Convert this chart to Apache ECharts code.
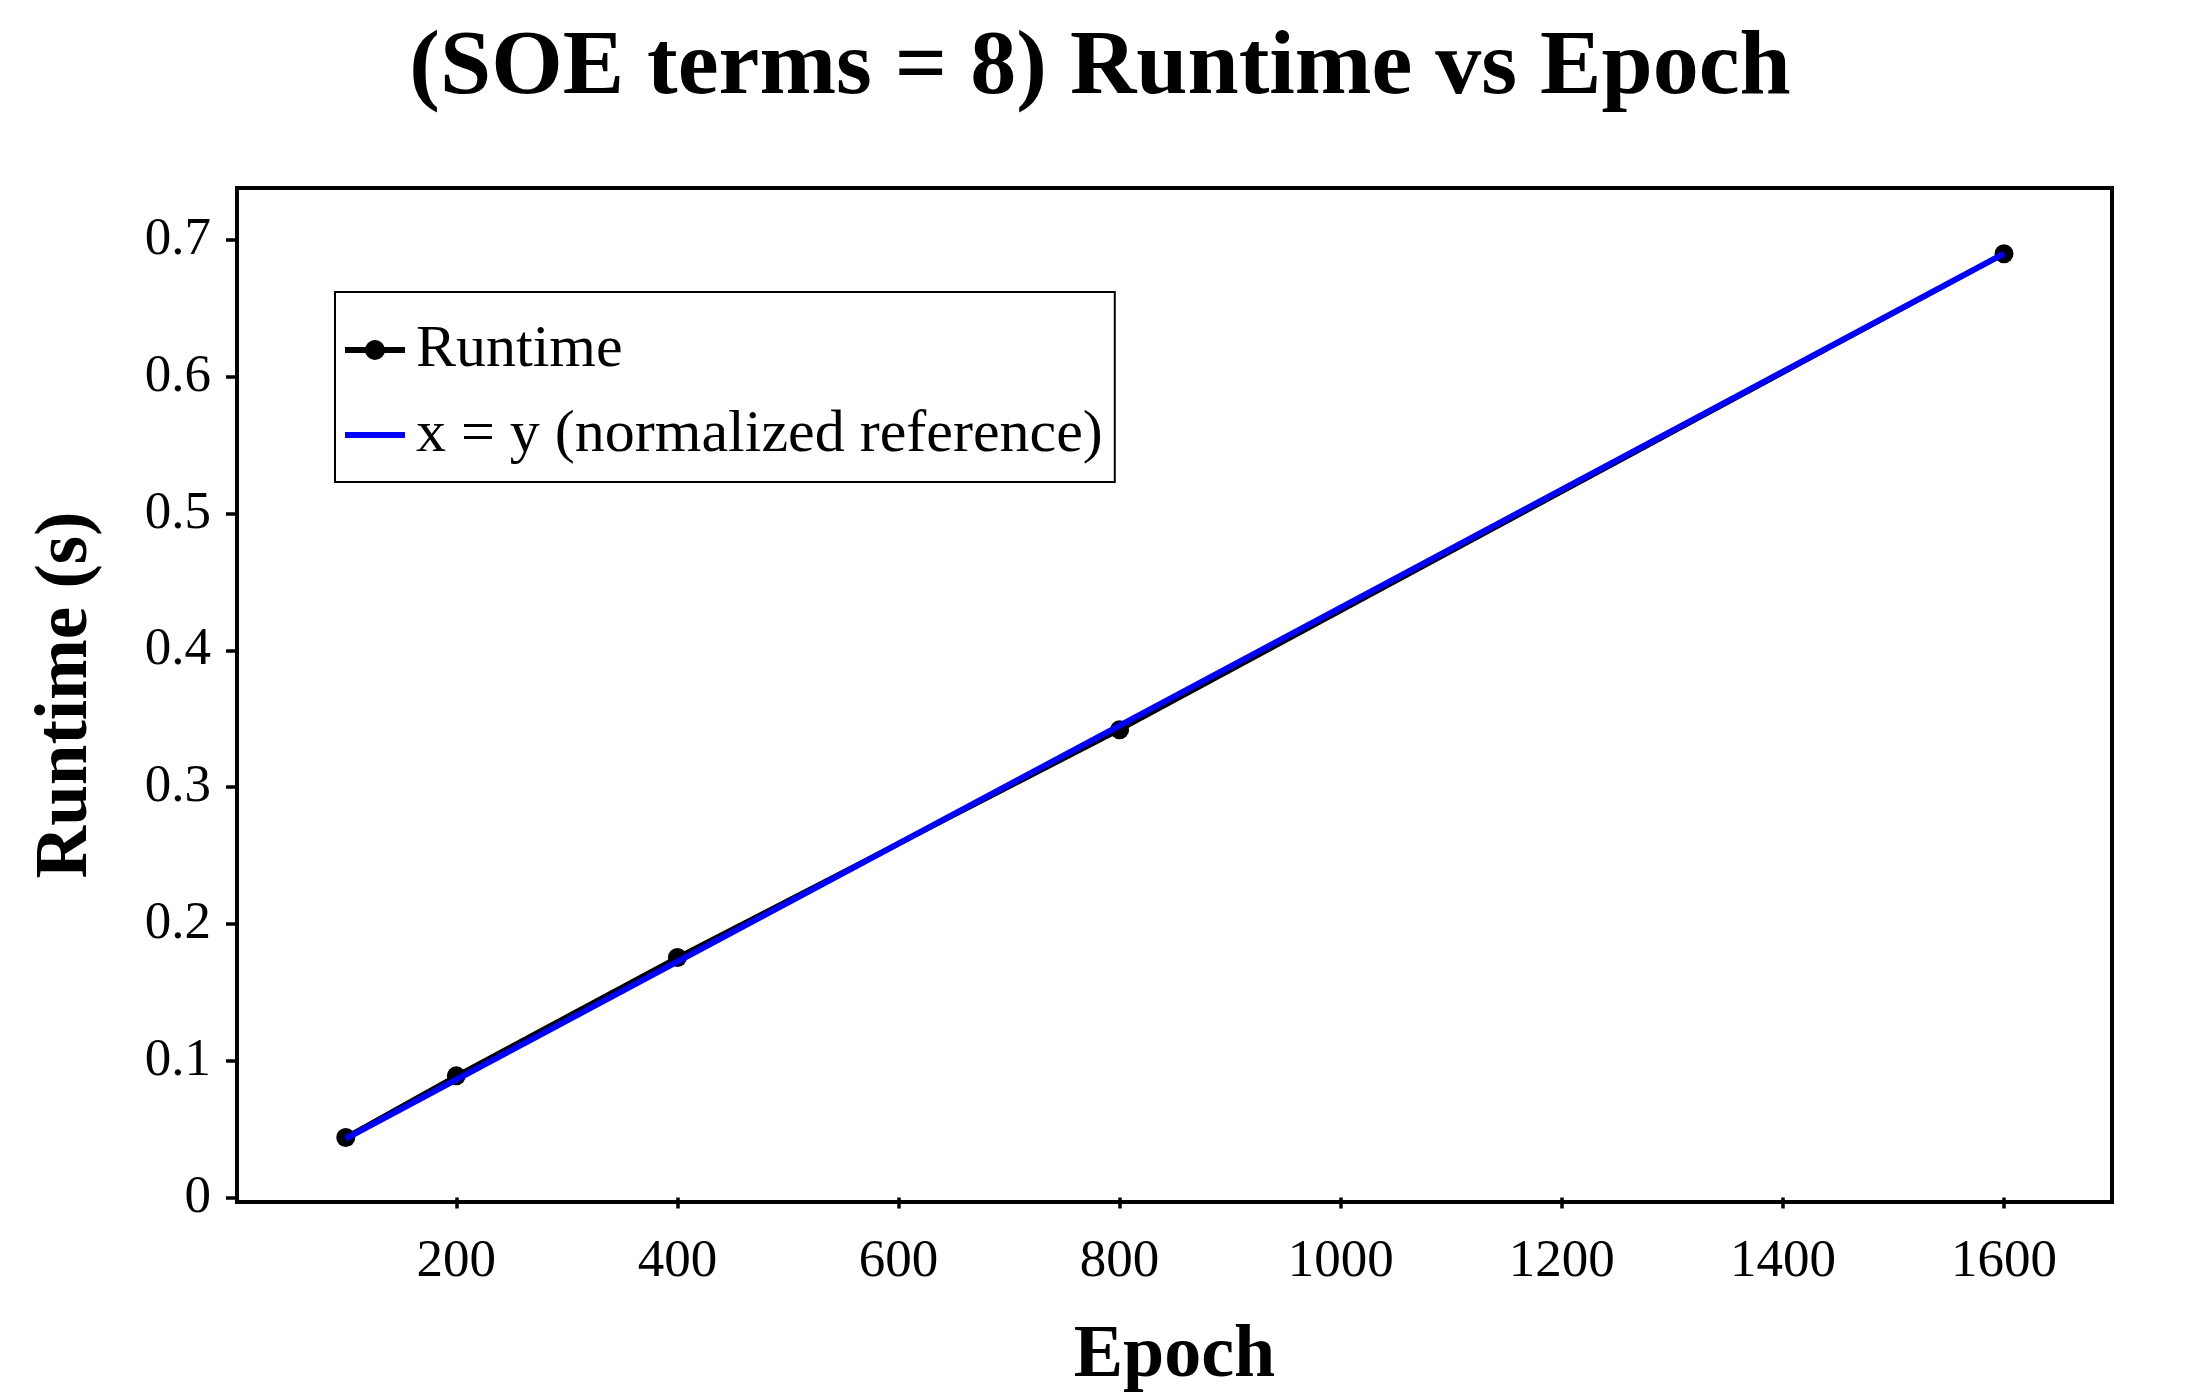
<!DOCTYPE html>
<html>
<head>
<meta charset="utf-8">
<script src="https://cdn.jsdelivr.net/npm/echarts@6/dist/echarts.min.js"></script>
<style>
html,body{margin:0;padding:0;background:#fff;}
#chart{width:2200px;height:1400px;}
</style>
</head>
<body>
<div id="chart"></div>
<script>
const epochs = [100, 200, 400, 800, 1600];
const runtime = [0.044, 0.089, 0.1755, 0.342, 0.690];
const reference = [0.0431, 0.0863, 0.1725, 0.345, 0.690];
const xTicks = [200, 400, 600, 800, 1000, 1200, 1400, 1600];
const yTicks = [0, 0.1, 0.2, 0.3, 0.4, 0.5, 0.6, 0.7];
const titleText = '(SOE terms = 8) Runtime vs Epoch';
const seriesNames = ['Runtime', 'x = y (normalized reference)'];

const FONT = '"Liberation Serif", "Times New Roman", serif';
const chart = echarts.init(document.getElementById('chart'), null, {renderer: 'canvas'});

chart.setOption({
  backgroundColor: '#ffffff',
  animation: false,
  title: {
    text: titleText,
    left: 'center',
    top: 18,
    textStyle: {fontFamily: FONT, fontSize: 92, fontWeight: 'bold', color: '#000'}
  },
  legend: {
    orient: 'vertical',
    left: 335,
    top: 292,
    padding: [28, 12, 17, 10],
    itemGap: 25,
    itemWidth: 60,
    itemHeight: 20,
    symbolKeepAspect: true,
    borderColor: '#000',
    borderWidth: 2,
    borderRadius: 0,
    backgroundColor: '#fff',
    textStyle: {fontFamily: FONT, fontSize: 60, color: '#000', lineHeight: 60, padding: [0, 0, 0, 6]},
    data: [
      {name: seriesNames[0], icon: 'path://M0 7 H60 V13 H0 Z M30 0 A10 10 0 1 1 29.99 0 Z', itemStyle: {color: '#000'}},
      {name: seriesNames[1], icon: 'path://M0 0 H60 V6 H0 Z', itemStyle: {color: '#0000ff'}}
    ]
  },
  grid: {
    left: 237,
    right: 88,
    top: 188,
    bottom: 198,
    show: true,
    borderColor: '#000',
    borderWidth: 4,
    containLabel: false
  },
  xAxis: {
    type: 'value',
    min: 1.6,
    max: 1697.7,
    name: 'Epoch',
    nameLocation: 'middle',
    nameGap: 118,
    nameTextStyle: {fontFamily: FONT, fontSize: 74, fontWeight: 'bold', color: '#000'},
    splitLine: {show: false},
    axisLine: {show: false},
    axisTick: {show: true, inside: false, length: 11, lineStyle: {color: '#000', width: 3.5}, customValues: xTicks},
    axisLabel: {
      fontFamily: FONT, fontSize: 53, color: '#000', margin: 34, customValues: xTicks,
      formatter: function (v) { return String(Math.round(v)); }
    }
  },
  yAxis: {
    type: 'value',
    min: -0.0032,
    max: 0.738,
    name: 'Runtime (s)',
    nameLocation: 'middle',
    nameGap: 133,
    nameTextStyle: {fontFamily: FONT, fontSize: 73, fontWeight: 'bold', color: '#000'},
    splitLine: {show: false},
    axisLine: {show: false},
    axisTick: {show: true, inside: false, length: 11, lineStyle: {color: '#000', width: 3.5}, customValues: yTicks},
    axisLabel: {
      fontFamily: FONT, fontSize: 53, color: '#000', margin: 26, customValues: yTicks,
      formatter: function (v) { return String(+v.toFixed(1)); }
    }
  },
  series: [
    {
      name: seriesNames[0],
      type: 'line',
      z: 2,
      data: epochs.map((e, i) => [e, runtime[i]]),
      symbol: 'circle',
      symbolSize: 19,
      lineStyle: {color: '#000', width: 5},
      itemStyle: {color: '#000'}
    },
    {
      name: seriesNames[1],
      type: 'line',
      z: 3,
      data: epochs.map((e, i) => [e, reference[i]]),
      symbol: 'none',
      showSymbol: false,
      lineStyle: {color: '#0000ff', width: 6},
      itemStyle: {color: '#0000ff'}
    }
  ]
});
</script>
</body>
</html>
